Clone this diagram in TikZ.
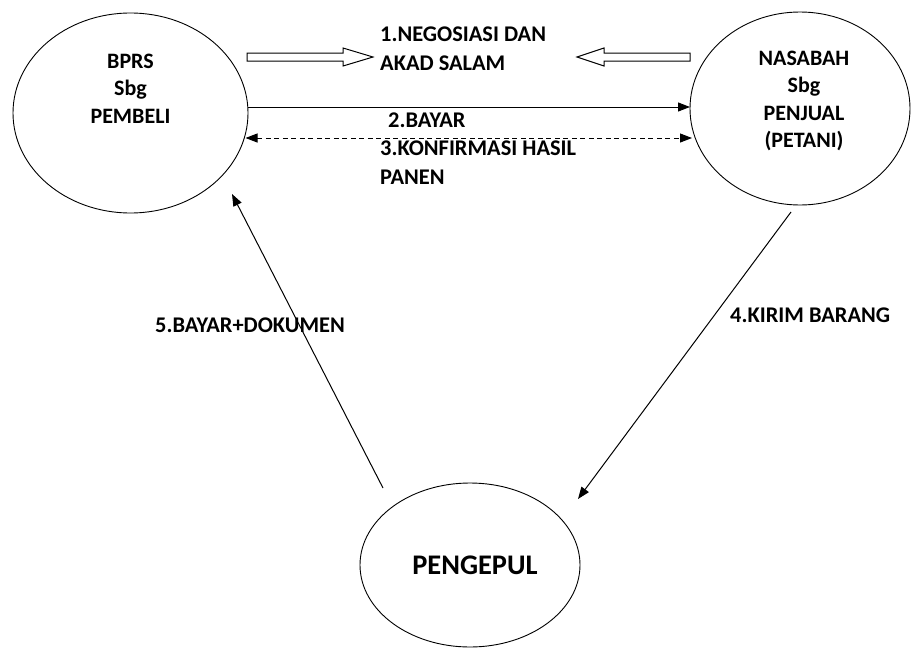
\documentclass[tikz,border=0pt]{standalone}
\usepackage{fontspec}
\setmainfont{Carlito}
\usetikzlibrary{shapes.geometric,arrows.meta,calc}
\begin{document}
\begin{tikzpicture}[x=1pt,y=-1pt,
  ell/.style={draw,ellipse,line width=0.9pt,inner sep=0pt},
  lbl/.style={font=\fontsize{22.4}{29}\selectfont\bfseries,inner sep=0pt},
  nodetxt/.style={font=\fontsize{22}{27.4}\selectfont\bfseries,inner sep=0pt,align=center,anchor=base},
  conn/.style={line width=1pt,-{Triangle[length=12pt,width=9pt]}},
  dconn/.style={line width=1pt,dash pattern=on 5pt off 3.5pt,{Triangle[length=12pt,width=9pt]}-{Triangle[length=12pt,width=9pt]}},
  hollow/.style={draw,line width=1pt,line join=miter}]
\useasboundingbox (0,0) rectangle (913,648);
% ellipses
\node[ell,minimum width=235pt,minimum height=200pt] (bprs) at (130.5,113) {};
\node[ell,minimum width=220pt,minimum height=193pt] (nasabah) at (800,108.5) {};
\node[ell,minimum width=220pt,minimum height=164pt] (pengepul) at (470,565) {};
% node texts (anchor base = last line's baseline)
\node[nodetxt] (bprsText) at (130.5,123) {BPRS\\Sbg\\PEMBELI};
\node[nodetxt] (nasabahText) at (804,147.5) {NASABAH\\Sbg\\PENJUAL\\(PETANI)};
\node[inner sep=0pt,anchor=base,font=\fontsize{28.4}{30}\selectfont\bfseries] (pengepulText) at (475,574) {PENGEPUL};
% labels
\node[lbl,align=left,anchor=base west] (l1) at (380,70) {1.NEGOSIASI DAN\\AKAD SALAM};
\node[lbl,anchor=base west] (l2) at (388,127) {2.BAYAR};
\node[lbl,align=left,anchor=base west] (l3) at (380,184) {3.KONFIRMASI HASIL\\PANEN};
\node[lbl,anchor=base west] (l4) at (730,322) {4.KIRIM BARANG};
\node[lbl,anchor=base west] (l5) at (155,332) {5.BAYAR+DOKUMEN};
% hollow block arrows
\draw[hollow] (247,53)--(343,53)--(343,48)--(373,57)--(343,66)--(343,61)--(247,61)--cycle;
\draw[hollow] (690,53)--(604,53)--(604,48)--(577,57)--(604,66)--(604,61)--(690,61)--cycle;
% connectors
\draw[conn] ($(bprs.center)+(117.5,-6)$) -- ($(nasabah.center)+(-110,-1.5)$);
\draw[dconn] ($(bprs.center)+(115,25)$) -- ($(nasabah.center)+(-108,29.5)$);
\draw[conn] ($(nasabah.center)+(-9,103.5)$) -- ($(pengepul.center)+(108,-66)$);
\draw[conn] ($(pengepul.center)+(-87,-77)$) -- ($(bprs.center)+(101.5,81)$);
\end{tikzpicture}
\end{document}
